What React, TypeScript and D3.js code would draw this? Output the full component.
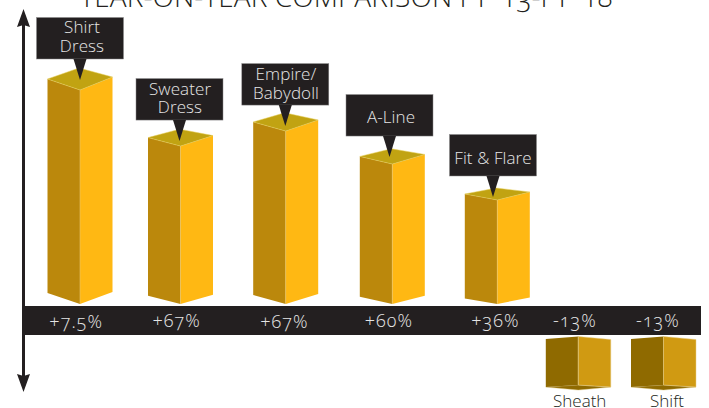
import React from "react";
import * as d3 from "d3";

// Chart content
const titleText = "YEAR-ON-YEAR COMPARISON FY '13-FY '18";
const categories = ["Shirt Dress", "Sweater Dress", "Empire/ Babydoll", "A-Line", "Fit & Flare", "Sheath", "Shift"];
const growthLabels = ["+7.5%", "+67%", "+67%", "+60%", "+36%", "-13%", "-13%"];
// Column heights as drawn, relative to the tallest column (100)
const columnLevels = [100, 73.8, 80.8, 65.4, 48.6, -22.7, -22.7];

type CalloutSpec = { lines: string[]; tipX: number; textX: number; tipDrop: number; first: number; leading: number };
const callouts: Record<string, CalloutSpec> = {
  "Shirt Dress": { lines: ["Shirt", "Dress"], tipX: 80, textX: 82, tipDrop: 10, first: 15.5, leading: 19 },
  "Sweater Dress": { lines: ["Sweater", "Dress"], tipX: 179.5, textX: 180, tipDrop: 5, first: 16.7, leading: 17.8 },
  "Empire/ Babydoll": { lines: ["Empire/", "Babydoll"], tipX: 285.3, textX: 286, tipDrop: 5, first: 16.3, leading: 19 },
  "A-Line": { lines: ["A-Line"], tipX: 389.5, textX: 391, tipDrop: 7, first: 28, leading: 0 },
  "Fit & Flare": { lines: ["Fit & Flare"], tipX: 493, textX: 493, tipDrop: 3, first: 29.5, leading: 0 },
};

const W = 709;
const H = 408;
const FONT = "'Open Sans', sans-serif";
const INK = "#231f20";
const oldStyle = { fontVariantNumeric: "oldstyle-nums" } as const;

// Column centres are unevenly spaced along the band
const x = d3.scaleOrdinal<string, number>().domain(categories).range([80, 180.5, 285.7, 392.3, 497.3, 578.3, 663.5]);
const labelX = d3.scaleOrdinal<string, number>().domain(categories).range([76.3, 176.7, 284.5, 389, 495.5, 575, 658]);
const labelY = d3.scaleOrdinal<string, number>().domain(categories).range([328, 326.7, 328.3, 327, 326.7, 327, 327]);
const halfWidth = 32.5;
const baseline = 304;
const y = d3.scaleLinear().domain([0, 100]).range([baseline, 90]);
const negBase = 336.5;
const yNeg = d3.scaleLinear().domain([0, -100]).range([negBase, negBase + 214]);
// Taller columns show more of their top and bottom faces
const capDepth = d3.scaleLinear().domain([48.6, 100]).range([12, 22]);
const footDepth = d3.scaleLinear().domain([48.6, 100]).range([5.5, 11]);

const pts = (p: [number, number][]) => p.map((q) => q.join(",")).join(" ");

function UpColumn({ name, level }: { name: string; level: number }) {
  const cx = x(name);
  const front = y(level);
  const d = capDepth(level);
  const f = footDepth(level);
  const l = cx - halfWidth;
  const r = cx + halfWidth;
  const yl = front - d / 2;
  const yr = front - d / 2 - 2;
  const back = front - d;
  return (
    <g>
      <polygon points={pts([[l, yl], [cx, front], [cx, baseline], [l, baseline - f]])} fill="#bb880c" />
      <polygon points={pts([[cx, front], [r, yr], [r, baseline - f - 1], [cx, baseline]])} fill="#ffb813" />
      <polygon points={pts([[l, yl], [cx - 1, back], [r, yr], [cx, front]])} fill="#c1a312" stroke="#e6cf5a" strokeWidth={0.5} />
      <line x1={cx} x2={cx} y1={front} y2={baseline} stroke="#e8c56a" strokeWidth={0.6} />
    </g>
  );
}

function DownColumn({ name, level }: { name: string; level: number }) {
  const cx = x(name);
  const l = cx - halfWidth;
  const r = cx + halfWidth;
  const bottom = yNeg(level);
  const topL = negBase + 2.5;
  const topR = negBase + 3;
  return (
    <g>
      <polygon points={pts([[l, bottom + 2], [cx, bottom], [r, bottom + 2], [cx, bottom + 5]])} fill="#8f6a00" stroke="#d9c27a" strokeWidth={0.4} />
      <polygon points={pts([[l, topL], [cx, negBase], [cx, bottom], [l, bottom + 2]])} fill="#8f6a00" />
      <polygon points={pts([[cx, negBase], [r, topR], [r, bottom + 2], [cx, bottom]])} fill="#d09a12" stroke="#e8cf8a" strokeWidth={0.5} />
      <line x1={cx} x2={cx} y1={negBase} y2={bottom} stroke="#d8bb66" strokeWidth={0.7} />
    </g>
  );
}

function Callout({ name, level }: { name: string; level: number }) {
  const spec = callouts[name];
  const tipX = spec.tipX;
  const tipY = y(level) - spec.tipDrop;
  const boxBottom = tipY - 21;
  const boxTop = boxBottom - 41.5;
  const boxX = tipX - 43.5;
  return (
    <g>
      <rect x={boxX} y={boxTop} width={87} height={41.5} fill={INK} stroke="#8a898a" strokeWidth={0.5} />
      <polygon points={pts([[tipX - 6.5, boxBottom], [tipX + 6.5, boxBottom], [tipX, tipY]])} fill={INK} />
      {spec.lines.map((t, i) => (
        <text key={t} x={spec.textX} y={boxTop + spec.first + i * spec.leading} textAnchor="middle" fill="#e6e6e6" fontFamily={FONT} fontWeight={300} fontSize={17} letterSpacing={0.1}>
          {t}
        </text>
      ))}
    </g>
  );
}

export default function App() {
  return (
    <svg width={W} height={H} viewBox={`0 0 ${W} ${H}`} style={{ position: "absolute", left: 0, top: 0, background: "#fff" }}>
      <text x={346} y={7} textAnchor="middle" fill={INK} fontFamily={FONT} fontWeight={300} fontSize={28} letterSpacing={0.08} style={oldStyle}>
        {titleText}
      </text>

      {categories.map((c, i) =>
        columnLevels[i] > 0 ? <UpColumn key={c} name={c} level={columnLevels[i]} /> : <DownColumn key={c} name={c} level={columnLevels[i]} />
      )}

      <rect x={22} y={306} width={679} height={29} fill={INK} />

      {/* Vertical double-headed axis */}
      <rect x={22} y={20} width={3} height={360} fill={INK} />
      <polygon points={pts([[23.5, 9], [30, 27], [23.5, 25], [17, 27]])} fill={INK} />
      <polygon points={pts([[23.5, 392], [30, 374], [23.5, 376], [17, 374]])} fill={INK} />

      {categories.map((c, i) => (
        <text key={c} x={labelX(c)} y={labelY(c)} textAnchor="middle" fill="#e6e6e6" fontFamily={FONT} fontWeight={300} fontSize={18} letterSpacing={1.1} style={oldStyle}>
          {growthLabels[i]}
        </text>
      ))}

      {categories.map((c, i) =>
        columnLevels[i] > 0 ? (
          <Callout key={c} name={c} level={columnLevels[i]} />
        ) : (
          <text key={c} x={c === "Sheath" ? 579.7 : 667} y={407} textAnchor="middle" fill={INK} fontFamily={FONT} fontWeight={300} fontSize={17}>
            {c}
          </text>
        )
      )}
    </svg>
  );
}
